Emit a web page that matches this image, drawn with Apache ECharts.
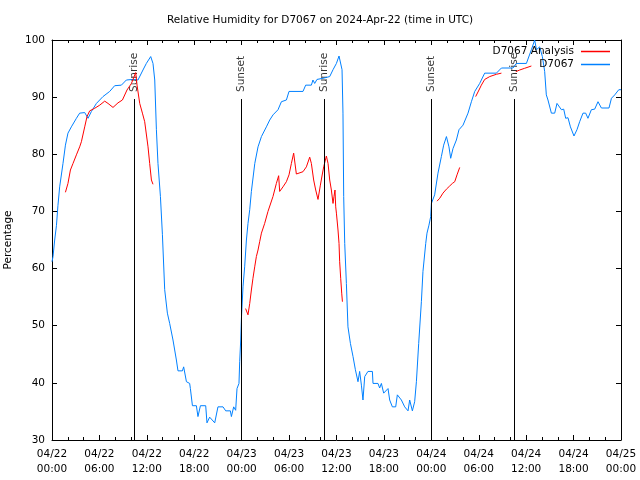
<!DOCTYPE html>
<html>
<head>
<meta charset="utf-8">
<script src="https://cdn.jsdelivr.net/npm/echarts@6/dist/echarts.min.js"></script>
<style>
html,body{margin:0;padding:0;background:#fff;}
#chart{width:640px;height:480px;}
</style>
</head>
<body>
<div id="chart"></div>
<script>
// Hours since 2024-04-22 00:00 UTC
const obsHours = [0.0,0.13,0.34,0.56,0.75,0.97,1.39,1.70,2.02,2.45,3.09,3.50,4.14,4.56,4.99,5.62,6.45,7.30,7.93,8.78,9.41,10.25,10.88,11.51,11.94,12.49,12.78,13.00,13.21,13.41,13.72,13.97,14.26,14.60,14.89,15.31,15.74,15.94,16.50,16.66,17.01,17.42,17.51,17.77,18.27,18.47,18.78,19.45,19.61,19.95,20.59,21.00,21.64,21.98,22.57,22.70,22.99,23.24,23.41,23.66,23.75,23.88,23.97,24.17,24.38,24.60,24.80,25.02,25.23,25.66,26.07,26.50,27.13,27.55,27.97,28.60,29.03,29.66,29.99,31.76,32.10,32.82,33.02,33.24,33.53,34.29,35.14,35.56,35.99,36.32,36.53,36.70,36.82,36.91,37.04,37.25,37.45,37.76,38.09,38.39,38.72,38.93,39.15,39.35,39.57,39.98,40.54,40.62,41.25,41.46,41.68,41.97,42.52,42.73,43.07,43.49,43.70,44.21,44.63,45.05,45.26,45.60,45.89,46.11,46.40,46.74,46.94,47.29,47.45,47.70,47.92,48.01,48.42,48.84,49.27,49.56,49.91,50.23,50.45,50.74,51.17,51.50,52.01,52.64,53.07,53.49,54.12,54.75,56.23,56.87,58.33,58.76,60.03,60.66,61.08,61.30,61.71,62.05,62.34,62.55,62.76,63.19,63.61,63.90,64.15,64.46,64.75,65.00,65.29,65.60,66.05,66.43,66.77,67.19,67.53,67.82,68.25,68.67,69.09,69.52,70.48,70.79,71.21,71.72,72.00];
const obsValues = [61.2,62.1,65.0,67.5,71.0,74.3,78.4,81.6,83.7,84.8,86.3,87.2,87.3,86.3,87.5,88.9,90.1,91.0,92.0,92.1,93.0,93.1,93.0,94.75,95.9,97.1,95.9,93.0,84.3,78.4,72.6,66.0,56.3,52.2,50.4,47.5,44.0,42.1,42.1,42.8,40.2,39.9,39.0,36.0,36.0,34.1,36.0,36.0,33.0,34.0,33.0,35.8,35.8,35.1,35.1,34.1,35.8,35.2,39.0,39.9,43.7,47.5,51.3,56.8,60.3,65.0,67.9,70.3,73.5,78.4,81.3,83.1,84.8,86.0,86.9,87.8,89.2,89.5,91.0,91.0,92.1,92.1,93.0,92.4,93.1,93.3,93.6,94.8,95.9,97.2,97.2,94.8,87.2,72.6,64.4,57.4,49.8,46.9,44.6,42.3,40.2,42.0,39.6,37.0,41.1,42.0,42.0,39.9,39.9,39.1,39.9,38.2,39.0,37.0,35.8,35.8,37.9,37.0,35.8,35.1,37.0,35.1,36.7,40.2,46.9,54.2,59.5,64.4,66.2,67.6,69.1,71.4,72.9,76.7,79.6,81.6,83.1,81.3,79.3,81.0,82.5,84.3,85.1,87.2,89.2,91.0,92.4,94.2,94.2,95.1,95.1,95.9,95.9,98.3,100,98.3,98.8,97.1,94.5,90.4,89.5,87.2,87.2,88.9,89.2,87.8,87.9,86.3,86.4,84.8,83.2,84.3,85.7,87.2,87.2,86.3,87.8,87.9,89.2,88.1,88.1,89.8,90.4,91.3,91.3];

// null values mark gaps between analysis runs
const anaHours = [1.70,2.02,2.33,2.66,3.09,3.50,3.72,4.14,4.43,4.77,5.40,6.04,6.67,7.09,7.72,8.35,8.91,9.49,10.05,10.59,10.76,11.10,11.44,11.73,11.94,12.15,12.36,12.58,12.78,18.0,
  24.50,24.80,25.02,25.23,25.43,25.65,25.86,26.07,26.28,26.50,26.91,27.33,27.96,28.39,28.68,28.81,29.23,29.66,29.99,30.29,30.58,30.92,31.76,32.19,32.61,32.82,33.11,33.37,33.66,33.96,34.21,34.38,34.72,34.93,35.14,35.35,35.56,35.68,35.81,35.90,35.99,36.19,36.32,36.40,36.53,36.66,36.75,42.0,
  48.72,49.06,49.47,49.91,50.32,50.66,50.96,51.25,51.59,52.5,
  53.61,54.03,54.33,54.75,55.39,56.23,56.87,57.8,
  58.68,59.18,59.81,60.66];
const anaValues = [73.35,74.9,77.25,78.4,79.9,81.3,82.2,84.8,86.6,87.6,88.05,88.6,89.3,88.9,88.2,89.0,89.5,91.25,92.4,94.3,92.1,88.9,87.2,85.7,85.5,81.3,78.4,75.5,74.75,null,
  53.0,51.9,53.9,56.25,58.3,60.3,62.1,63.25,64.7,66.2,67.9,70.0,72.6,74.9,76.25,73.5,74.3,75.2,76.4,78.4,80.2,76.55,76.95,77.8,79.5,78.4,75.5,73.75,72.1,74.6,76.55,77.8,79.7,78.4,75.5,73.75,71.4,72.6,73.75,70.8,69.7,66.75,64.4,61.2,58.3,55.7,54.2,null,
  71.8,72.3,73.2,73.9,74.45,74.9,75.2,76.4,77.7,null,
  90.1,91.25,92.1,93.1,93.6,94.0,94.2,null,
  94.45,94.75,95.05,95.45];

const eventHours = [10.43, 23.97, 34.48, 47.97, 58.53];
const eventNames = ['Sunrise', 'Sunset', 'Sunrise', 'Sunset', 'Sunrise'];

const xTickLabels = ['04/22\n00:00','04/22\n06:00','04/22\n12:00','04/22\n18:00','04/23\n00:00','04/23\n06:00','04/23\n12:00','04/23\n18:00','04/24\n00:00','04/24\n06:00','04/24\n12:00','04/24\n18:00','04/25\n00:00'];
const yTicks = [30, 40, 50, 60, 70, 80, 90, 100];

const FONT = 'DejaVu Sans';
const FS = 10.5;

const obsData = obsHours.map((h, i) => [h, obsValues[i]]);
const anaData = anaHours.map((h, i) => [h, anaValues[i]]);
const eventLabelData = eventHours.map((h, i) => ({ value: [h, 90.9], name: eventNames[i] }));
const eventLineData = eventHours.map(h => [{ coord: [h, 89.67] }, { coord: [h, 30] }]);

const chart = echarts.init(document.getElementById('chart'), null, { renderer: 'canvas' });

const xBase = {
  type: 'value', min: 0, max: 72, interval: 6,
  axisLine: { show: true, onZero: false, lineStyle: { color: '#000', width: 1 } },
  axisTick: { show: true, inside: true, length: 5, lineStyle: { color: '#000' } },
  minorTick: { show: true, splitNumber: 3, length: 3, lineStyle: { color: '#000' } },
  splitLine: { show: false }
};
const yBase = {
  type: 'value', min: yTicks[0], max: yTicks[yTicks.length - 1], interval: 10,
  axisLine: { show: true, onZero: false, lineStyle: { color: '#000', width: 1 } },
  axisTick: { show: true, inside: true, length: 5, lineStyle: { color: '#000' } },
  splitLine: { show: false }
};

chart.setOption({
  animation: false,
  backgroundColor: '#fff',
  textStyle: { fontFamily: FONT },
  title: {
    text: 'Relative Humidity for D7067 on 2024-Apr-22 (time in UTC)',
    left: 'center', top: 10,
    textStyle: { fontFamily: FONT, fontSize: FS, fontWeight: 'normal', color: '#000' }
  },
  legend: [
    { data: ['D7067 Analysis'], right: 30, top: 46, orient: 'vertical', align: 'right', padding: 0,
      itemWidth: 29, itemHeight: 1.5, itemGap: 0, icon: 'rect',
      textStyle: { fontFamily: FONT, fontSize: FS, color: '#000', padding: [0, 2, 0, 0] } },
    { data: ['D7067'], right: 30, top: 59, orient: 'vertical', align: 'right', padding: 0,
      itemWidth: 29, itemHeight: 1.5, itemGap: 0, icon: 'rect',
      textStyle: { fontFamily: FONT, fontSize: FS, color: '#000', padding: [0, 2, 0, 0] } }
  ],
  grid: { left: 52, right: 19, top: 40, bottom: 40, containLabel: false, outerBoundsMode: 'none' },
  xAxis: [
    Object.assign({}, xBase, {
      position: 'bottom',
      axisLabel: {
        show: true, color: '#000', fontFamily: FONT, fontSize: FS, lineHeight: 15, margin: 7,
        formatter: v => xTickLabels[Math.round(v / 6)]
      }
    }),
    Object.assign({}, xBase, { position: 'top', axisLabel: { show: false } })
  ],
  yAxis: [
    Object.assign({}, yBase, {
      position: 'left',
      name: 'Percentage', nameLocation: 'middle', nameGap: 34, nameRotate: 90,
      nameTextStyle: { fontFamily: FONT, fontSize: FS, color: '#000' },
      axisLabel: { show: true, color: '#000', fontFamily: FONT, fontSize: FS, margin: 7 }
    }),
    Object.assign({}, yBase, { position: 'right', axisLabel: { show: false } })
  ],
  series: [
    {
      name: 'events', type: 'scatter', xAxisIndex: 0, yAxisIndex: 0,
      symbolSize: 0, silent: true, z: 1,
      data: eventLabelData,
      label: {
        show: true, position: 'inside', rotate: 90, align: 'left', verticalAlign: 'middle',
        formatter: p => p.name, color: '#000', fontFamily: FONT, fontSize: FS
      },
      markLine: {
        silent: true, symbol: ['none', 'none'], animation: false,
        label: { show: false },
        lineStyle: { color: '#000', type: 'solid', width: 1 },
        emphasis: { disabled: true },
        data: eventLineData
      }
    },
    {
      name: 'D7067', type: 'line', xAxisIndex: 0, yAxisIndex: 0,
      data: obsData, showSymbol: false, symbol: 'none', z: 3,
      lineStyle: { color: '#0080ff', width: 1 }, itemStyle: { color: '#0080ff' }
    },
    {
      name: 'D7067 Analysis', type: 'line', xAxisIndex: 0, yAxisIndex: 0,
      data: anaData, showSymbol: false, symbol: 'none', connectNulls: false, z: 4,
      lineStyle: { color: '#ff0000', width: 1 }, itemStyle: { color: '#ff0000' }
    }
  ]
});
</script>
</body>
</html>
